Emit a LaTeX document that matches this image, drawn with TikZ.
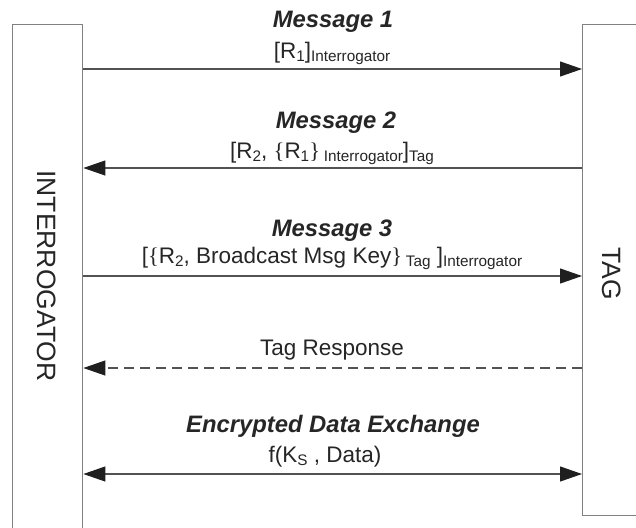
\documentclass[tikz,border=0pt]{standalone}
\usepackage{fontspec}
\setmainfont{Liberation Sans}
\newfontfamily\bracefont{Liberation Serif}
\usetikzlibrary{arrows.meta}
% lowered, smaller text for subscripts
\newcommand\lowsub[1]{\raisebox{-3pt}{\fontsize{15.3}{15.3}\selectfont #1}}
\newcommand\lb{{\bracefont\{}}
\newcommand\rb{{\bracefont\}}}
\begin{document}
\begin{tikzpicture}[x=1pt,y=-1pt,
  lane/.style={draw=black!50, line width=1.4pt, inner sep=0pt},
  lanelabel/.style={font=\fontsize{26.5}{30}\selectfont, text=black!85, rotate=-90, inner sep=0pt},
  tip/.style={Triangle[length=22pt,width=15pt,fill=black!88,color=black!88]},
  msg/.style={draw=black!68, line width=1.1pt, -{Triangle[length=22pt,width=15pt,color=black!88]}},
  both/.style={msg, {Triangle[length=22pt,width=15pt,color=black!88]}-{Triangle[length=22pt,width=15pt,color=black!88]}},
  reply/.style={msg, dash pattern=on 10pt off 6pt},
  title/.style={font=\fontsize{23.8}{28}\selectfont\bfseries\itshape, text=black!85, inner sep=0pt, anchor=base},
  formula/.style={font=\fontsize{22.5}{26}\selectfont, text=black!85, inner sep=0pt, anchor=base},
]
\useasboundingbox (0,0) rectangle (636,527);
\fill[white] (0,0) rectangle (636,527);
\clip (0,0) rectangle (636,527);

% the two parties
\node[lane, anchor=north west, minimum width=70pt, minimum height=560pt] (interrogator) at (12,24) {};
\node[lane, anchor=north west, minimum width=120pt, minimum height=491pt] (tag) at (582,24) {};
\node[lanelabel] (interrogatorlabel) at (47,276) {INTERROGATOR};
\node[lanelabel] (taglabel) at (612,274) {TAG};

% message heights
\coordinate (m1) at (0,69);
\coordinate (m2) at (0,168);
\coordinate (m3) at (0,276);
\coordinate (m4) at (0,368);
\coordinate (m5) at (0,474);

\draw[msg] (interrogator.east |- m1) -- (tag.west |- m1);
\draw[msg] (tag.west |- m2) -- (interrogator.east |- m2);
\draw[msg] (interrogator.east |- m3) -- (tag.west |- m3);
\draw[reply] (tag.west |- m4) -- (interrogator.east |- m4);
\draw[both] (interrogator.east |- m5) -- (tag.west |- m5);

% labels
\node[title] (t1) at (333,28) {Message 1};
\node[formula] (f1) at (332,58) {[R\lowsub{1}]\lowsub{Interrogator}};
\node[title] (t2) at (336,128) {Message 2};
\node[formula] (f2) at (332,158) {[R\lowsub{2}, \lb R\lowsub{1}\rb\,\lowsub{Interrogator}]\lowsub{Tag}};
\node[title] (t3) at (332,236) {Message 3};
\node[formula] (f3) at (332,263) {[\lb R\lowsub{2}, Broadcast Msg Key\rb\,\lowsub{Tag} ]\lowsub{Interrogator}};
\node[formula] (f4) at (332,355) {Tag Response};
\node[title] (t5) at (333,432) {Encrypted Data Exchange};
\node[formula] (f5) at (325,462) {f(K\lowsub{S} , Data)};
\end{tikzpicture}
\end{document}
